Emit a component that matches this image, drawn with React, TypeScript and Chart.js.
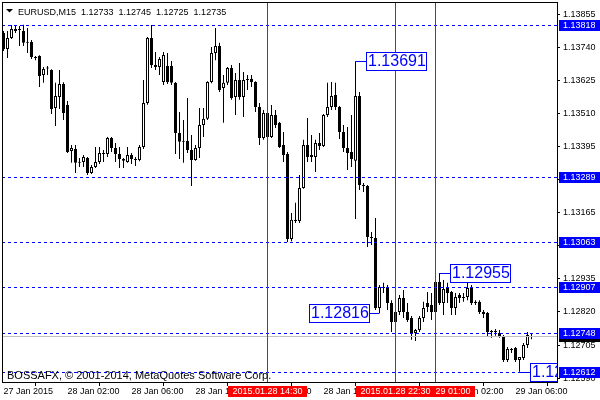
import React, { useEffect, useRef } from "react";
import { Chart, registerables } from "chart.js";
Chart.register(...registerables);

const FONT = '"Liberation Sans", Arial, sans-serif';

// EURUSD M15 candles, first candle 27 Jan 2015 22:00
const openPrice = [
  1.13789, 1.13734, 1.13772, 1.13796, 1.13803, 1.13796, 1.13755, 1.13758, 1.13706, 1.13709,
  1.13643, 1.13666, 1.13661, 1.13529, 1.13567, 1.13612, 1.1354, 1.13379, 1.13386, 1.13338,
  1.13341, 1.13355, 1.13303, 1.13324, 1.13341, 1.13372, 1.13369, 1.13424, 1.1339, 1.13369,
  1.13351, 1.13341, 1.13365, 1.13351, 1.13348, 1.13393, 1.13546, 1.13772, 1.13678, 1.13671,
  1.13619, 1.13675, 1.13675, 1.13616, 1.13442, 1.13411, 1.13414, 1.13383, 1.13348, 1.1339,
  1.1347, 1.13491, 1.13619, 1.1372, 1.13744, 1.13598, 1.13616, 1.13668, 1.13567, 1.13626,
  1.13567, 1.13626, 1.1363, 1.13619, 1.13532, 1.13424, 1.13511, 1.13428, 1.13504, 1.13477,
  1.134, 1.13369, 1.13073, 1.1314, 1.13136, 1.13251, 1.134, 1.13365, 1.13358, 1.13407,
  1.13397, 1.13504, 1.13532, 1.13574, 1.13532, 1.13445, 1.1339, 1.13376, 1.13345, 1.1357,
  1.13261, 1.13258, 1.1308, 1.13077, 1.12834, 1.12907, 1.12903, 1.12851, 1.12785, 1.1282,
  1.12868, 1.1282, 1.12799, 1.12747, 1.12757, 1.12799, 1.12851, 1.12844, 1.1282, 1.12924,
  1.12851, 1.12903, 1.12889, 1.12834, 1.12879, 1.12868, 1.12872, 1.12907, 1.12855, 1.12855,
  1.1282, 1.12816, 1.1275, 1.12752, 1.12747, 1.12733, 1.12653, 1.12691, 1.12695, 1.12653,
  1.1266, 1.12705, 1.12733,
];
const highPrice = [
  1.13796, 1.13796, 1.13817, 1.13817, 1.13814, 1.13818, 1.13807, 1.13765, 1.13709, 1.13712,
  1.13671, 1.13675, 1.13663, 1.13616, 1.13661, 1.13618, 1.13553, 1.134, 1.134, 1.13355,
  1.13365, 1.13358, 1.13331, 1.13393, 1.13393, 1.13383, 1.13428, 1.13428, 1.13407, 1.13393,
  1.13355, 1.13393, 1.13372, 1.13358, 1.134, 1.13626, 1.13775, 1.13817, 1.13723, 1.13706,
  1.13723, 1.1372, 1.13692, 1.13619, 1.13515, 1.13487, 1.13563, 1.13435, 1.134, 1.13529,
  1.13529, 1.13622, 1.13741, 1.13807, 1.13755, 1.13643, 1.13671, 1.13678, 1.1365, 1.13685,
  1.13654, 1.13643, 1.13643, 1.13622, 1.13546, 1.13522, 1.13539, 1.13539, 1.13522, 1.1348,
  1.13445, 1.13376, 1.13164, 1.13199, 1.13296, 1.13418, 1.13494, 1.13435, 1.13418, 1.13442,
  1.13508, 1.13616, 1.13619, 1.13616, 1.13536, 1.1347, 1.13463, 1.13504, 1.13691, 1.13584,
  1.13268, 1.13261, 1.13098, 1.13146, 1.12914, 1.12921, 1.12914, 1.12861, 1.12837, 1.12879,
  1.12896, 1.12851, 1.12806, 1.12761, 1.12806, 1.12855, 1.12889, 1.12886, 1.12948, 1.12955,
  1.12931, 1.12921, 1.12893, 1.12886, 1.12886, 1.12886, 1.12924, 1.12914, 1.12861, 1.12861,
  1.12827, 1.1282, 1.12757, 1.12761, 1.12757, 1.1274, 1.12698, 1.12695, 1.12698, 1.12663,
  1.12712, 1.1275, 1.12745,
];
const lowPrice = [
  1.13727, 1.13702, 1.13768, 1.13789, 1.13744, 1.13744, 1.1372, 1.13699, 1.13695, 1.13602,
  1.13616, 1.13643, 1.13508, 1.13466, 1.13525, 1.13487, 1.13372, 1.13338, 1.13303, 1.13324,
  1.13324, 1.13296, 1.13299, 1.1332, 1.13334, 1.13341, 1.13358, 1.13376, 1.13341, 1.1332,
  1.1332, 1.13338, 1.13334, 1.13327, 1.13344, 1.13386, 1.1354, 1.13668, 1.13661, 1.13643,
  1.13609, 1.13612, 1.13609, 1.13369, 1.13351, 1.13338, 1.13372, 1.13258, 1.13345, 1.13355,
  1.13428, 1.13487, 1.13615, 1.13695, 1.13584, 1.13477, 1.13609, 1.13557, 1.13504, 1.13557,
  1.13497, 1.13591, 1.13602, 1.13515, 1.134, 1.13418, 1.13418, 1.13424, 1.13459, 1.1339,
  1.13341, 1.13063, 1.13066, 1.13129, 1.13129, 1.13248, 1.13341, 1.13341, 1.13306, 1.13383,
  1.13393, 1.13497, 1.13522, 1.13522, 1.13421, 1.13376, 1.13313, 1.13324, 1.13143, 1.13244,
  1.13237, 1.13046, 1.13053, 1.12827, 1.12816, 1.12886, 1.12827, 1.1275, 1.12778, 1.12809,
  1.12799, 1.12785, 1.12723, 1.12719, 1.1275, 1.12785, 1.1282, 1.12792, 1.12816, 1.12844,
  1.12809, 1.12851, 1.12809, 1.12809, 1.12851, 1.12855, 1.12861, 1.12844, 1.12844, 1.12813,
  1.12799, 1.12733, 1.1273, 1.12737, 1.1273, 1.12646, 1.12646, 1.12677, 1.12646, 1.12612,
  1.12653, 1.12695, 1.12725,
];
const closePrice = [
  1.13734, 1.13772, 1.13803, 1.13803, 1.138, 1.13755, 1.13758, 1.13706, 1.13702, 1.1364,
  1.13664, 1.13668, 1.13525, 1.1357, 1.13612, 1.13511, 1.13376, 1.1339, 1.13338, 1.13341,
  1.13358, 1.13303, 1.13324, 1.13341, 1.13372, 1.13369, 1.13424, 1.1339, 1.13369, 1.13351,
  1.13345, 1.13365, 1.13351, 1.13348, 1.13393, 1.13546, 1.13772, 1.13678, 1.13671, 1.13699,
  1.13713, 1.13619, 1.13616, 1.13442, 1.13411, 1.13414, 1.13383, 1.13348, 1.1339, 1.1347,
  1.13491, 1.13619, 1.1372, 1.13744, 1.13591, 1.13616, 1.13668, 1.13563, 1.13626, 1.13567,
  1.13626, 1.13629, 1.13619, 1.13532, 1.13424, 1.13511, 1.13428, 1.13504, 1.1347, 1.13393,
  1.13365, 1.13073, 1.1314, 1.13136, 1.13251, 1.134, 1.13358, 1.13358, 1.13407, 1.13397,
  1.13504, 1.13532, 1.1357, 1.13532, 1.13445, 1.1339, 1.13372, 1.13351, 1.1357, 1.13261,
  1.13258, 1.1308, 1.13077, 1.12834, 1.12907, 1.12903, 1.12851, 1.12785, 1.1282, 1.12868,
  1.1282, 1.12792, 1.12747, 1.12757, 1.12799, 1.12834, 1.12837, 1.1282, 1.12924, 1.12851,
  1.129, 1.12886, 1.12834, 1.12872, 1.12868, 1.12872, 1.12903, 1.12851, 1.12851, 1.1282,
  1.12813, 1.1275, 1.12752, 1.1275, 1.12733, 1.12653, 1.12691, 1.12688, 1.12653, 1.12663,
  1.12705, 1.1274, 1.12735,
];

const timeTickIndex = [0, 16, 32, 48, 64, 80, 96, 112, 128];
const timeTickLabels = [
  "27 Jan 2015", "28 Jan 02:00", "28 Jan 06:00", "28 Jan 10:00", "28 Jan 14:00",
  "28 Jan 18:00", "28 Jan 22:00", "29 Jan 02:00", "29 Jan 06:00",
];
const priceTicks = [
  1.1259, 1.12705, 1.1282, 1.12935, 1.1305, 1.13165, 1.1328, 1.13395, 1.1351, 1.13625, 1.1374, 1.13855,
];
const priceMin = 1.125765;
const priceMax = 1.13897;

const levelPrices = [1.13818, 1.13289, 1.13063, 1.12907, 1.12748, 1.12612];
const bidPrice = 1.12735;

// vertical markers (drawing order matters for the overlapping time labels)
const markerIndex = [66, 108, 98];
const markerLabels = ["2015.01.28 14:30", "2015.01.29 01:00", "2015.01.28 22:30"];

// price notes attached to candles
const noteIndex = [88, 94, 109, 129];
const notePrice = [1.13691, 1.12816, 1.12955, 1.12612];
const noteSide = ["right", "left", "right", "right"];

const headerText = "EURUSD,M15  1.12733  1.12745  1.12725  1.12735";
const footerText = "BOSSAFX, \u00A9 2001-2014, MetaQuotes Software Corp.";

export default function App() {
  const ref = useRef<HTMLCanvasElement>(null);

  useEffect(() => {
    const canvas = ref.current!;
    const idx = openPrice.map((_, i) => i);

    const overlay = {
      id: "mt4overlay",
      afterDraw(chart: any) {
        const ctx = chart.ctx as CanvasRenderingContext2D;
        const xs = chart.scales.x;
        const ys = chart.scales.y;
        const a = chart.chartArea;
        ctx.save();

        // plot area clip
        ctx.save();
        ctx.beginPath();
        ctx.rect(a.left, a.top, a.right - a.left, a.bottom - a.top);
        ctx.clip();

        // dashed level lines
        ctx.strokeStyle = "#0000ff";
        ctx.lineWidth = 1;
        ctx.setLineDash([3, 3]);
        levelPrices.forEach((p) => {
          const y = Math.round(ys.getPixelForValue(p)) + 0.5;
          ctx.beginPath();
          ctx.moveTo(a.left, y);
          ctx.lineTo(a.right, y);
          ctx.stroke();
        });
        ctx.setLineDash([]);

        // bid line
        {
          const y = Math.round(ys.getPixelForValue(bidPrice)) + 0.5;
          ctx.strokeStyle = "#c0c0c0";
          ctx.beginPath();
          ctx.moveTo(a.left, y);
          ctx.lineTo(a.right, y);
          ctx.stroke();
        }

        // vertical red lines
        ctx.strokeStyle = "#ff0000";
        markerIndex.forEach((i) => {
          const x = Math.floor(xs.getPixelForValue(i)) + 0.5;
          ctx.beginPath();
          ctx.moveTo(x, a.top);
          ctx.lineTo(x, a.bottom);
          ctx.stroke();
        });

        // price notes
        ctx.font = "16px " + FONT;
        ctx.textBaseline = "middle";
        ctx.textAlign = "left";
        noteIndex.forEach((ci, k) => {
          const px = Math.floor(xs.getPixelForValue(ci)) + 0.5;
          const cy = Math.round(ys.getPixelForValue(notePrice[k]));
          const txt = notePrice[k].toFixed(5);
          const w = Math.round(ctx.measureText(txt).width) + 3;
          const h = 19;
          const top = cy - 9;
          let left: number;
          ctx.strokeStyle = "#0000ff";
          ctx.beginPath();
          if (noteSide[k] === "right") {
            left = Math.floor(px) + 11;
            ctx.moveTo(px, cy + 0.5);
            ctx.lineTo(left, cy + 0.5);
          } else {
            left = Math.floor(px) - 9 - w;
            ctx.moveTo(left + w, cy + 0.5);
            ctx.lineTo(px, cy + 0.5);
          }
          ctx.stroke();
          ctx.fillStyle = "#ffffff";
          ctx.fillRect(left, top, w, h);
          ctx.strokeRect(left + 0.5, top + 0.5, w - 1, h - 1);
          ctx.fillStyle = "#0000ff";
          ctx.fillText(txt, left + 2, cy + 1);
        });
        ctx.restore();

        // frame
        ctx.strokeStyle = "#000000";
        ctx.lineWidth = 1;
        ctx.strokeRect(a.left + 0.5, a.top + 0.5, a.right - a.left, a.bottom - a.top);

        // header
        ctx.fillStyle = "#000000";
        ctx.beginPath();
        ctx.moveTo(6, 9);
        ctx.lineTo(13, 9);
        ctx.lineTo(9.5, 12.5);
        ctx.closePath();
        ctx.fill();
        ctx.font = "9px " + FONT;
        ctx.textBaseline = "alphabetic";
        ctx.textAlign = "left";
        ctx.fillText(headerText, 18, 15);
        ctx.font = "11px " + FONT;
        ctx.fillText(footerText, 7, 379);
        ctx.font = "9px " + FONT;

        // right axis labels
        ctx.textBaseline = "middle";
        const labelBox = (p: number, bg: string) => {
          const cy = ys.getPixelForValue(p);
          ctx.fillStyle = bg;
          ctx.fillRect(a.right + 2, Math.round(cy) - 5, 600 - a.right - 2, 11);
          ctx.fillStyle = "#ffffff";
          ctx.fillText(p.toFixed(5), a.right + 6, Math.round(cy) + 0.5);
        };
        labelBox(bidPrice, "#000000");
        levelPrices.forEach((p) => labelBox(p, "#0000ff"));

        // time labels of vertical markers
        ctx.textAlign = "center";
        markerIndex.forEach((i, k) => {
          const x = Math.floor(xs.getPixelForValue(i)) + 0.5;
          const w = Math.round(ctx.measureText(markerLabels[k]).width) + 9;
          const left = Math.round(x - w / 2);
          ctx.fillStyle = "#ff0000";
          ctx.fillRect(left, a.bottom + 4, w, 11);
          ctx.fillStyle = "#ffffff";
          ctx.fillText(markerLabels[k], left + w / 2, a.bottom + 9.5);
        });

        ctx.restore();
      },
    };

    const chart = new Chart(canvas, {
      type: "bar",
      data: {
        datasets: [
          {
            label: "wick",
            data: idx.map((i) => ({ x: i, y: [lowPrice[i], highPrice[i]] })) as any,
            backgroundColor: "#000000",
            borderWidth: 0,
            barThickness: 1,
            grouped: false,
            inflateAmount: 0,
            order: 2,
          } as any,
          {
            label: "body",
            data: idx.map((i) => ({ x: i, y: [openPrice[i], closePrice[i]] })) as any,
            backgroundColor: idx.map((i) => (closePrice[i] > openPrice[i] ? "#ffffff" : "#000000")),
            borderColor: "#000000",
            borderWidth: 1,
            borderSkipped: false,
            barThickness: 3,
            minBarLength: 1,
            grouped: false,
            inflateAmount: 0,
            order: 1,
          } as any,
        ],
      },
      options: {
        responsive: false,
        devicePixelRatio: 1,
        animation: false,
        events: [],
        layout: { padding: { left: 2, top: 2, right: 0, bottom: 0 } },
        plugins: { legend: { display: false }, tooltip: { enabled: false } },
        scales: {
          x: {
            type: "linear",
            min: -0.375,
            max: 138.375,
            offset: false,
            bounds: "data",
            afterBuildTicks: (s: any) => {
              s.ticks = timeTickIndex.map((v) => ({ value: v }));
            },
            afterFit: (s: any) => {
              s.height = 18;
              s.paddingLeft = 0;
              s.paddingRight = 0;
            },
            ticks: {
              autoSkip: false,
              maxRotation: 0,
              minRotation: 0,
              align: "start",
              padding: 0,
              color: "#000000",
              font: { family: FONT, size: 9 },
              callback: (v: any) => {
                const k = timeTickIndex.indexOf(Number(v));
                return k >= 0 ? timeTickLabels[k] : "";
              },
            },
            grid: { drawOnChartArea: false, drawTicks: true, tickLength: 4, color: "#000000" },
            border: { display: false },
          } as any,
          y: {
            type: "linear",
            position: "right",
            min: priceMin,
            max: priceMax,
            beginAtZero: false,
            bounds: "data",
            afterBuildTicks: (s: any) => {
              s.ticks = priceTicks.map((v) => ({ value: v }));
            },
            afterFit: (s: any) => {
              s.width = 43;
              s.paddingTop = 0;
              s.paddingBottom = 0;
            },
            ticks: {
              autoSkip: false,
              padding: 3,
              color: "#000000",
              font: { family: FONT, size: 9 },
              callback: (v: any) => Number(v).toFixed(5),
            },
            grid: { drawOnChartArea: false, drawTicks: true, tickLength: 3, color: "#000000" },
            border: { display: false },
          } as any,
        },
      },
      plugins: [overlay],
    });

    return () => chart.destroy();
  }, []);

  return (
    <div style={{ position: "fixed", left: 0, top: 0, width: 600, height: 400, background: "#ffffff" }}>
      <canvas ref={ref} width={600} height={400} style={{ display: "block", width: 600, height: 400 }} />
    </div>
  );
}
